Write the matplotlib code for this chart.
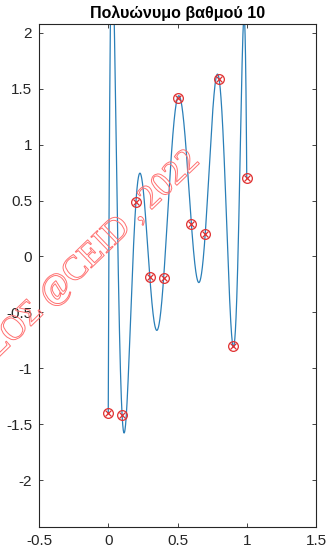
import numpy as np
import matplotlib
matplotlib.use("Agg")
import matplotlib.pyplot as plt
import matplotlib.patheffects as pe

# data points
x_pts = [0.0, 0.1, 0.2, 0.3, 0.4, 0.5, 0.6, 0.7, 0.8, 0.9, 1.0]
y_pts = [-1.40, -1.42, 0.49, -0.18, -0.19, 1.42, 0.295, 0.20, 1.59, -0.80, 0.70]
title = "Πολυώνυμο βαθμού 10"
x_ticks = [-0.5, 0, 0.5, 1, 1.5]
x_ticklabels = ["-0.5", "0", "0.5", "1", "1.5"]
y_ticks = [-2, -1.5, -1, -0.5, 0, 0.5, 1, 1.5, 2]
y_ticklabels = ["-2", "-1.5", "-1", "-0.5", "0", "0.5", "1", "1.5", "2"]
watermark = "ΣΟΣ @CEID , 2022"

plt.rcParams["font.family"] = ["Liberation Sans", "DejaVu Sans"]

# degree-10 interpolating polynomial through the points
coef = np.polyfit(x_pts, y_pts, 10)
xx = np.linspace(0, 1, 2000)
yy = np.polyval(coef, xx)

fig = plt.figure(figsize=(3.28, 5.52), dpi=100)
ax = fig.add_axes([39/328, 1-527/552, 277/328, 503/552])

ax.plot(xx, yy, color="#2a7fb8", lw=0.9, zorder=2)
ax.plot(x_pts, y_pts, "o", mfc="none", mec="#e03030", ms=7, mew=0.9, zorder=3)
ax.plot(x_pts, y_pts, "x", color="#e03030", ms=5, mew=0.9, zorder=3)

ax.set_xlim(-0.5, 1.5)
ax.set_ylim(-2.42, 2.08)
ax.set_xticks(x_ticks)
ax.set_xticklabels(x_ticklabels)
ax.set_yticks(y_ticks)
ax.set_yticklabels(y_ticklabels)
ax.tick_params(direction="in", top=True, right=True, length=3, width=0.6,
               colors="#262626", labelsize=11, pad=5)
for s in ax.spines.values():
    s.set_color("#262626")
    s.set_linewidth(0.8)
ax.set_title(title, fontsize=11.5, fontweight="bold", color="black", pad=4)

fig.text(201/328, 1-162/552, watermark, rotation=44, fontsize=25,
         family=["Liberation Serif", "DejaVu Serif"], color="none",
         ha="right", va="baseline", rotation_mode="anchor",
         path_effects=[pe.Stroke(linewidth=0.7, foreground="#ff7070")], zorder=1)

fig.savefig("out.png", dpi=100)
